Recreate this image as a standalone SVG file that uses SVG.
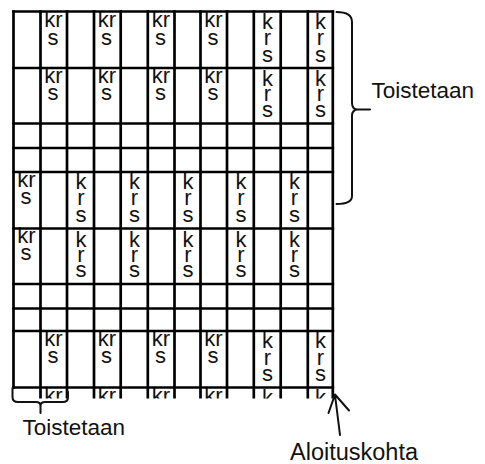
<svg xmlns="http://www.w3.org/2000/svg" width="485" height="464" viewBox="0 0 485 464">
<style>
.cell{font-family:"Liberation Sans",Arial,sans-serif;font-size:22px;fill:#111;text-anchor:middle}
.lbl{font-family:"Liberation Sans",Arial,sans-serif;fill:#111}
.g{stroke:#000;stroke-width:2.7;fill:none}
.c{stroke:#111;stroke-width:2;fill:none;stroke-linecap:round;stroke-linejoin:round}
</style>
<defs>
<clipPath id="clip"><rect x="12" y="12" width="323" height="386.5"/></clipPath>
</defs>
<rect width="485" height="464" fill="#fff"/>
<g id="cell-texts" clip-path="url(#clip)">
<g id="row0">
<text class="cell"><tspan x="53.5" y="26.5">kr</tspan><tspan x="53" y="45">s</tspan></text>
<text class="cell"><tspan x="107" y="26.5">kr</tspan><tspan x="106.5" y="45">s</tspan></text>
<text class="cell"><tspan x="161" y="26.5">kr</tspan><tspan x="160.5" y="45">s</tspan></text>
<text class="cell"><tspan x="213.5" y="26.5">kr</tspan><tspan x="213" y="45">s</tspan></text>
<text class="cell"><tspan x="267.5" y="28.5">k</tspan><tspan x="267.5" y="45">r</tspan><tspan x="267.5" y="61.5">s</tspan></text>
<text class="cell"><tspan x="320.5" y="28.5">k</tspan><tspan x="320.5" y="45">r</tspan><tspan x="320.5" y="61.5">s</tspan></text>
</g>
<g id="row1">
<text class="cell"><tspan x="53.5" y="82.5">kr</tspan><tspan x="53" y="99.5">s</tspan></text>
<text class="cell"><tspan x="107" y="82.5">kr</tspan><tspan x="106.5" y="99.5">s</tspan></text>
<text class="cell"><tspan x="161" y="82.5">kr</tspan><tspan x="160.5" y="99.5">s</tspan></text>
<text class="cell"><tspan x="213.5" y="82.5">kr</tspan><tspan x="213" y="99.5">s</tspan></text>
<text class="cell"><tspan x="267.5" y="86">k</tspan><tspan x="267.5" y="101">r</tspan><tspan x="267.5" y="117">s</tspan></text>
<text class="cell"><tspan x="320.5" y="86">k</tspan><tspan x="320.5" y="101">r</tspan><tspan x="320.5" y="117">s</tspan></text>
</g>
<g id="row4">
<text class="cell"><tspan x="26.5" y="186.5">kr</tspan><tspan x="26" y="203.5">s</tspan></text>
<text class="cell"><tspan x="81" y="188.5">k</tspan><tspan x="81" y="205">r</tspan><tspan x="81" y="221.5">s</tspan></text>
<text class="cell"><tspan x="134.5" y="188.5">k</tspan><tspan x="134.5" y="205">r</tspan><tspan x="134.5" y="221.5">s</tspan></text>
<text class="cell"><tspan x="188" y="188.5">k</tspan><tspan x="188" y="205">r</tspan><tspan x="188" y="221.5">s</tspan></text>
<text class="cell"><tspan x="241" y="188.5">k</tspan><tspan x="241" y="205">r</tspan><tspan x="241" y="221.5">s</tspan></text>
<text class="cell"><tspan x="294.5" y="188.5">k</tspan><tspan x="294.5" y="205">r</tspan><tspan x="294.5" y="221.5">s</tspan></text>
</g>
<g id="row5">
<text class="cell"><tspan x="26.5" y="242.5">kr</tspan><tspan x="26" y="260">s</tspan></text>
<text class="cell"><tspan x="81" y="246.5">k</tspan><tspan x="81" y="262">r</tspan><tspan x="81" y="277">s</tspan></text>
<text class="cell"><tspan x="134.5" y="246.5">k</tspan><tspan x="134.5" y="262">r</tspan><tspan x="134.5" y="277">s</tspan></text>
<text class="cell"><tspan x="188" y="246.5">k</tspan><tspan x="188" y="262">r</tspan><tspan x="188" y="277">s</tspan></text>
<text class="cell"><tspan x="241" y="246.5">k</tspan><tspan x="241" y="262">r</tspan><tspan x="241" y="277">s</tspan></text>
<text class="cell"><tspan x="294.5" y="246.5">k</tspan><tspan x="294.5" y="262">r</tspan><tspan x="294.5" y="277">s</tspan></text>
</g>
<g id="row8">
<text class="cell"><tspan x="53.5" y="345.5">kr</tspan><tspan x="53" y="363">s</tspan></text>
<text class="cell"><tspan x="107" y="345.5">kr</tspan><tspan x="106.5" y="363">s</tspan></text>
<text class="cell"><tspan x="161" y="345.5">kr</tspan><tspan x="160.5" y="363">s</tspan></text>
<text class="cell"><tspan x="213.5" y="345.5">kr</tspan><tspan x="213" y="363">s</tspan></text>
<text class="cell"><tspan x="267.5" y="348">k</tspan><tspan x="267.5" y="364.5">r</tspan><tspan x="267.5" y="381">s</tspan></text>
<text class="cell"><tspan x="320.5" y="348">k</tspan><tspan x="320.5" y="364.5">r</tspan><tspan x="320.5" y="381">s</tspan></text>
</g>
<g id="row9">
<text class="cell" x="53.5" y="402.5">kr</text>
<text class="cell" x="107" y="402.5">kr</text>
<text class="cell" x="161" y="402.5">kr</text>
<text class="cell" x="213.5" y="402.5">kr</text>
<text class="cell" x="267.5" y="405">k</text>
<text class="cell" x="320.5" y="405">k</text>
</g>
</g>
<g id="grid" class="g">
<line x1="12.15" y1="11.5" x2="334.15" y2="11.5"/>
<line x1="12.15" y1="68" x2="334.15" y2="68"/>
<line x1="12.15" y1="123.5" x2="334.15" y2="123.5"/>
<line x1="12.15" y1="148" x2="334.15" y2="148"/>
<line x1="12.15" y1="172" x2="334.15" y2="172"/>
<line x1="12.15" y1="228.5" x2="334.15" y2="228.5"/>
<line x1="12.15" y1="284" x2="334.15" y2="284"/>
<line x1="12.15" y1="308.5" x2="334.15" y2="308.5"/>
<line x1="12.15" y1="331" x2="334.15" y2="331"/>
<line x1="12.15" y1="387.5" x2="334.15" y2="387.5"/>
<line x1="13.5" y1="10.15" x2="13.5" y2="388.85"/>
<line x1="40.5" y1="10.15" x2="40.5" y2="398.5"/>
<line x1="67" y1="10.15" x2="67" y2="398.5"/>
<line x1="94" y1="10.15" x2="94" y2="398.5"/>
<line x1="120.7" y1="10.15" x2="120.7" y2="398.5"/>
<line x1="147.8" y1="10.15" x2="147.8" y2="398.5"/>
<line x1="174.5" y1="10.15" x2="174.5" y2="398.5"/>
<line x1="200.5" y1="10.15" x2="200.5" y2="398.5"/>
<line x1="227" y1="10.15" x2="227" y2="398.5"/>
<line x1="253.8" y1="10.15" x2="253.8" y2="398.5"/>
<line x1="280.7" y1="10.15" x2="280.7" y2="398.5"/>
<line x1="307.8" y1="10.15" x2="307.8" y2="398.5"/>
<line x1="332.8" y1="10.15" x2="332.8" y2="398.5"/>
</g>
<g id="connectors">
<path id="brace-right" class="c" d="M336.5 12 Q352 12 352 22 L352 103 Q352 109.5 358 109.5 L370 109.5 M358 109.5 Q352 109.5 352 116 L352 196 Q352 204 336.5 204"/>
<path id="brace-bottom" class="c" d="M12.5 388 L12.5 397 Q12.5 402 18 402 L36 402 Q40.5 402 40.5 406 L40.5 413 M40.5 406 Q40.5 402 45 402 L63 402 Q68 402 68 397 L68 392"/>
<path id="arrow" class="c" d="M340 435 L335 395 M328.5 413 L335 394.5 L349 410.5"/>
</g>
<g id="label-repeat-right"><text class="lbl" x="371.5" y="98.3" font-size="22.5">Toistetaan</text></g>
<g id="label-repeat-bottom"><text class="lbl" x="22.5" y="435" font-size="22.5">Toistetaan</text></g>
<g id="label-start"><text class="lbl" x="290" y="460" font-size="23.5">Aloituskohta</text></g>
</svg>
